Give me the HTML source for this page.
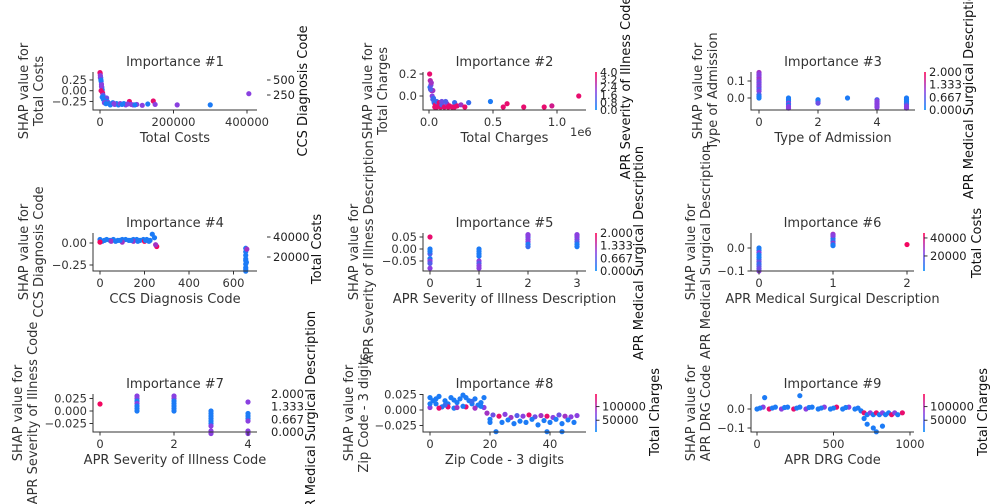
<!DOCTYPE html>
<html><head><meta charset="utf-8">
<style>
html,body{margin:0;padding:0;background:#fff;}
svg{display:block;font-family:"DejaVu Sans","Liberation Sans",sans-serif;}
</style></head>
<body>
<svg id="fig" width="1008" height="504" viewBox="0 0 1008 504" xmlns="http://www.w3.org/2000/svg">
<defs>
<linearGradient id="cb" x1="0" y1="1" x2="0" y2="0">
<stop offset="0" stop-color="#008afb"/><stop offset="0.5" stop-color="#8a40e0"/><stop offset="1" stop-color="#ff0052"/>
</linearGradient>
</defs>
</svg>
<script>
// ---- data arrays ----
const p1X=[0,500,1000,2000,3000,4000,5000,6000,7000,8000,10000,12000,15000,18000,20000,22000,25000,30000,35000,40000,45000,50000,55000,60000,70000,80000,85000,90000,100000,115000,130000,145000,150000,210000,300000,405000,1000,2500,4000,9000,3000,6000,12000,16000,28000,38000,65000,75000,95000];
const p1Y=[0.42,0.4,0.35,0.3,0.22,0.15,0.08,0.02,-0.05,-0.1,-0.15,-0.2,-0.22,-0.17,-0.25,-0.28,-0.3,-0.31,-0.28,-0.32,-0.3,-0.33,-0.3,-0.32,-0.33,-0.25,-0.32,-0.33,-0.32,-0.34,-0.31,-0.24,-0.32,-0.33,-0.33,-0.07,0.3,0.25,0.1,-0.2,0.0,-0.15,-0.28,-0.3,-0.33,-0.3,-0.3,-0.31,-0.33];
const p1C=[0.9,0.9,0.5,0.1,0.1,0.5,0.1,0.1,0.9,0.4,0.1,0.1,0.9,0.4,0.1,0.5,0.1,0.5,0.1,0.5,0.1,0.1,0.5,0.1,0.5,0.9,0.5,0.5,0.5,0.5,0.1,0.9,0.5,0.5,0.1,0.5,0.5,0.1,0.5,0.1,0.9,0.1,0.5,0.1,0.1,0.5,0.1,0.5,0.1];
const p2X=[5000,8000,10000,15000,20000,25000,30000,40000,50000,60000,70000,80000,90000,100000,120000,140000,160000,180000,200000,220000,250000,280000,310000,480000,580000,610000,740000,900000,960000,1170000,30000,60000,100000,150000,200000,12000,18000,35000,45000,130000];
const p2Y=[0.2,0.08,0.14,0.1,0.05,0.0,-0.03,-0.06,-0.08,-0.05,-0.09,-0.06,-0.1,-0.08,-0.1,-0.07,-0.09,-0.1,-0.06,-0.09,-0.08,-0.1,-0.06,-0.05,-0.1,-0.07,-0.1,-0.1,-0.09,0.0,0.05,-0.1,-0.05,-0.1,-0.1,0.06,0.12,-0.02,-0.1,-0.05];
const p2C=[0.9,0.1,0.7,0.4,0.7,0.5,0.3,0.2,0.9,0.2,0.6,0.9,0.9,0.3,0.9,0.6,0.9,0.9,0.2,0.9,0.6,0.9,0.2,0.1,0.9,0.9,0.9,0.9,0.8,0.9,0.6,0.9,0.4,0.9,0.9,0.3,0.6,0.2,0.9,0.3];
const p3X=[0,0,0,0,0,0,0,0,0,0,0,0,0,0,0,1,1,1,1,1,1,1,2,2,2,2,3,4,4,4,4,4,4,5,5,5,5,5,5,5];
const p3Y=[0.15,0.14,0.13,0.12,0.11,0.1,0.09,0.08,0.07,0.06,0.05,0.04,0.02,0.01,0.0,0.0,-0.01,-0.02,-0.03,-0.04,-0.05,-0.06,-0.01,-0.015,-0.02,-0.03,0.0,-0.01,-0.02,-0.03,-0.04,-0.05,-0.055,0.0,-0.01,-0.02,-0.03,-0.04,-0.05,-0.06];
const p3C=[0.6,0.5,0.5,0.5,0.6,0.5,0.4,0.5,0.4,0.5,0.3,0.5,0.3,0.1,0.1,0.1,0.1,0.1,0.5,0.1,0.5,0.5,0.1,0.1,0.1,0.4,0.1,0.3,0.5,0.5,0.5,0.5,0.5,0.1,0.1,0.1,0.1,0.3,0.5,0.5];
const p4X=[0,10,20,30,45,60,80,100,115,130,150,165,180,195,210,225,235,245,255,0,50,100,150,200,250,655,655,655,655,655,655,655,655,655,658,660,70,90,140,170,205,220];
const p4Y=[0.04,0.02,0.03,0.04,0.03,0.04,0.03,0.04,0.04,0.03,0.04,0.04,0.03,0.04,0.04,0.03,0.1,0.06,-0.04,0.01,0.02,0.01,0.02,0.02,-0.02,-0.06,-0.1,-0.14,-0.18,-0.2,-0.24,-0.28,-0.3,-0.32,-0.22,-0.07,0.02,0.03,0.03,0.02,0.03,0.02];
const p4C=[0.1,0.1,0.1,0.1,0.1,0.1,0.1,0.1,0.1,0.1,0.1,0.1,0.1,0.1,0.1,0.1,0.1,0.1,0.95,0.95,0.6,0.6,0.6,0.95,0.6,0.1,0.1,0.1,0.1,0.1,0.1,0.1,0.1,0.1,0.1,0.6,0.1,0.1,0.1,0.1,0.1,0.1];
const p5X=[0,0,0,0,0,0,0,1,1,1,1,1,1,1,2,2,2,2,2,2,3,3,3,3,3,3,0,1,2,3];
const p5Y=[0.05,0.0,-0.02,-0.04,-0.05,-0.06,-0.08,0.0,-0.01,-0.03,-0.05,-0.06,-0.07,-0.08,0.06,0.05,0.04,0.03,0.02,0.01,0.06,0.05,0.04,0.03,0.02,0.01,-0.01,-0.02,0.055,0.055];
const p5C=[0.9,0.1,0.3,0.1,0.5,0.3,0.5,0.1,0.1,0.1,0.5,0.3,0.5,0.5,0.5,0.1,0.5,0.5,0.1,0.2,0.5,0.1,0.5,0.3,0.1,0.1,0.1,0.1,0.5,0.5];
const p6X=[0,0,0,0,0,0,0,0,0,1,1,1,1,1,1,1,2,0,0,1];
const p6Y=[-0.0,-0.01,-0.02,-0.03,-0.05,-0.06,-0.07,-0.08,-0.1,0.06,0.05,0.04,0.03,0.02,0.015,0.01,0.015,-0.04,-0.09,0.055];
const p6C=[0.1,0.1,0.5,0.1,0.3,0.4,0.2,0.3,0.5,0.6,0.5,0.1,0.2,0.6,0.2,0.1,0.95,0.1,0.4,0.5];
const p7X=[0,1,1,1,1,1,1,1,2,2,2,2,2,2,2,3,3,3,3,3,3,3,3,3,4,4,4,4,4,4,4];
const p7Y=[0.014,0.03,0.025,0.02,0.015,0.01,0.005,0.0,0.03,0.025,0.02,0.015,0.01,0.005,0.0,0.0,-0.005,-0.01,-0.015,-0.02,-0.025,-0.03,-0.04,-0.045,0.018,-0.005,-0.01,-0.015,-0.02,-0.04,-0.045];
const p7C=[0.95,0.5,0.5,0.1,0.5,0.1,0.1,0.1,0.5,0.5,0.1,0.1,0.1,0.1,0.1,0.1,0.1,0.1,0.1,0.1,0.1,0.5,0.5,0.5,0.5,0.1,0.1,0.1,0.5,0.5,0.5];
const p8X=[0,1,2,3,4,5,6,7,8,9,10,11,12,13,14,15,16,17,18,0,3,6,9,12,15,18,19,21,23,25,27,29,31,33,35,37,39,41,43,45,47,49,20,24,28,32,36,40,44,48,22,39,44,0,2,5,8,11,14,17,20,26,30,34,38,42,46];
const p8Y=[0.02,0.015,0.01,0.022,0.005,0.015,0.01,0.02,0.003,0.012,0.018,0.024,0.02,0.015,0.01,0.018,0.008,0.012,0.02,0.004,0.003,0.005,0.004,0.005,0.003,0.004,-0.005,-0.008,-0.01,-0.007,-0.012,-0.009,-0.01,-0.008,-0.011,-0.009,-0.01,-0.012,-0.008,-0.01,-0.011,-0.009,-0.02,-0.02,-0.022,-0.02,-0.024,-0.02,-0.022,-0.02,-0.035,-0.035,-0.035,0.01,0.018,0.008,0.016,0.006,0.014,0.006,-0.015,-0.016,-0.018,-0.015,-0.017,-0.015,-0.016];
const p8C=[0.1,0.1,0.1,0.1,0.1,0.1,0.1,0.1,0.1,0.1,0.1,0.1,0.1,0.1,0.1,0.1,0.1,0.1,0.1,0.5,0.9,0.9,0.6,0.9,0.6,0.5,0.6,0.4,0.9,0.5,0.6,0.3,0.5,0.9,0.4,0.6,0.9,0.5,0.4,0.6,0.5,0.5,0.1,0.1,0.1,0.1,0.1,0.1,0.1,0.1,0.1,0.1,0.1,0.1,0.1,0.2,0.1,0.1,0.2,0.1,0.1,0.1,0.1,0.1,0.1,0.1,0.1];
const p9X=[0,40,80,120,160,200,240,280,320,360,400,440,480,520,560,600,640,680,700,720,740,760,780,800,820,840,860,880,900,920,950,50,280,700,720,760,780,820,20,100,180,260,340,420,500,580,660];
const p9Y=[0.0,0.01,0.0,0.01,0.0,0.01,0.0,0.01,0.0,0.01,0.0,0.01,0.0,0.01,0.0,0.01,0.0,-0.01,-0.02,-0.03,-0.02,-0.03,-0.02,-0.03,-0.02,-0.03,-0.02,-0.03,-0.02,-0.03,-0.02,0.06,0.07,-0.05,-0.08,-0.1,-0.12,-0.09,0.005,0.005,0.008,0.005,0.008,0.005,0.005,0.008,0.005];
const p9C=[0.1,0.5,0.9,0.1,0.5,0.1,0.9,0.1,0.5,0.1,0.1,0.5,0.1,0.9,0.1,0.5,0.1,0.1,0.9,0.1,0.5,0.1,0.9,0.1,0.5,0.1,0.1,0.9,0.5,0.1,0.9,0.1,0.1,0.1,0.1,0.1,0.1,0.1,0.1,0.1,0.1,0.1,0.1,0.1,0.1,0.1,0.1];
// tick labels
const p1XT=[0,200000,400000], p1YT=[0.25,0,-0.25], p1YL=["0.25","0.00","\u22120.25"], p1CT=[500,250];
const p2XT=[0,500000,1000000], p2XL=["0.0","0.5","1.0"], p2YT=[0.2,0], p2YL=["0.2","0.0"], p2CT=["4.0","3.2","2.4","1.6","0.8","0.0"];
const p3XT=[0,2,4], p3YT=[0.1,0], p3YL=["0.1","0.0"];
const p4XT=[0,200,400,600], p4YT=[0,-0.25], p4YL=["0.00","\u22120.25"], p4CT=[40000,20000];
const p5XT=[0,1,2,3], p5YT=[0.05,0,-0.05], p5YL=["0.05","0.00","\u22120.05"];
const p6XT=[0,1,2], p6YT=[0,-0.1], p6YL=["0.0","\u22120.1"], p6CT=[40000,20000];
const p7XT=[0,2,4], p7YT=[0.025,0,-0.025], p7YL=["0.025","0.000","\u22120.025"];
const p8XT=[0,20,40], p8YT=[0.025,0,-0.025], p8YL=["0.025","0.000","\u22120.025"], p8CT=[100000,50000];
const p9XT=[0,500,1000], p9YT=[0,-0.1], p9YL=["0.0","\u22120.1"], p9CT=[100000,50000];
const triT=["2.000","1.333","0.667","0.000"];

const NS="http://www.w3.org/2000/svg";
const svg=document.getElementById('fig');
function mk(tag,at,parent){const e=document.createElementNS(NS,tag);for(const k in at)e.setAttribute(k,at[k]);(parent||svg).appendChild(e);return e;}
function col(t){const a=[0,138,251],m=[138,64,224],b=[255,0,82];let c;if(t<0.5){const u=t/0.5;c=a.map((v,i)=>v+(m[i]-v)*u);}else{const u=(t-0.5)/0.5;c=m.map((v,i)=>v+(b[i]-v)*u);}return `rgb(${c.map(Math.round).join(',')})`;}

function panel(o){
  const g=mk('g',{});
  
  
  const sx=v=>o.x0+v*o.xs, sy=v=>o.y0-v*o.ys;
  for(let i=0;i<o.X.length;i++){
    const c=mk('circle',{cx:sx(o.X[i]),cy:sy(o.Y[i]),r:2.6,fill:col(o.C[i])},g);
    
    
  }
  const ax=mk('path',{d:`M${o.l},${o.t}V${o.b}H${o.r}`,stroke:'#333',fill:'none','stroke-width':1},g);
  
  
  o.XT.forEach((v,i)=>{const x=sx(v);mk('line',{x1:x,x2:x,y1:o.b,y2:o.b+3.5,stroke:'#333'},g);
    const t=mk('text',{x:x,y:o.b+16,'text-anchor':'middle','font-size':11.5,fill:'#333'},g);t.textContent=o.XL?o.XL[i]:String(v);
    });
  o.YT.forEach((v,i)=>{const y=sy(v);mk('line',{x1:o.l-3.5,x2:o.l,y1:y,y2:y,stroke:'#333'},g);
    const t=mk('text',{x:o.l-6,y:y+4,'text-anchor':'end','font-size':11.5,fill:'#333'},g);t.textContent=o.YL[i];
    });
  const ti=mk('text',{x:(o.l+o.r)/2,y:o.t-6,'text-anchor':'middle','font-size':13,fill:'#333'},g);ti.textContent=o.title;
  
  const xl=mk('text',{x:(o.l+o.r)/2,y:o.b+32,'text-anchor':'middle','font-size':13,fill:'#333'},g);xl.textContent=o.xlab;
  
  if(o.xoff){const e=mk('text',{x:o.r-16,y:o.b+26,'font-size':11.5,fill:'#333'},g);e.textContent=o.xoff;
    }
  const cy=(o.t+o.b)/2;
  const yl=mk('text',{transform:`translate(${o.ylx},${cy}) rotate(-90)`,'text-anchor':'middle','font-size':13,fill:'#333'},g);
  
  const s1=mk('tspan',{x:0,dy:0},yl);s1.textContent='SHAP value for';
  const s2=mk('tspan',{x:0,dy:15},yl);s2.textContent=o.ylab;
  const cx=o.r+10;
  if(o.bar){const b=mk('rect',{x:cx-0.8,y:o.t,width:1.6,height:o.b-o.t,fill:'url(#cb)'},g);
    }
  const cbs=(o.b-o.t)/(o.cmax-o.cmin);
  o.CT.forEach((v,i)=>{
    let y;let lab;
    if(typeof v==='string'){lab=v;y=o.b-parseFloat(v)*cbs+o.cmin*cbs;}else{lab=String(v);y=o.b-(v-o.cmin)*cbs;}
    if(o.cticks)mk('line',{x1:cx,x2:cx+3.5,y1:y,y2:y,stroke:'#333'},g);
    const t=mk('text',{x:cx+(o.cticks?6:4),y:y+4,'font-size':o.cfs||11.5,fill:'#222'},g);t.textContent=lab;
    });
  const cl=mk('text',{transform:`translate(${o.clx},${o.cly||cy}) rotate(-90)`,'text-anchor':'middle','font-size':13,fill:'#111'},g);cl.textContent=o.clab;
  
}
const R=[[72,110],[233,271],[394,432]];
panel({name:'panel-importance-1',title:'Importance #1',xlab:'Total Costs',ylab:'Total Costs',X:p1X,Y:p1Y,C:p1C,XT:p1XT,YT:p1YT,YL:p1YL,CT:p1CT,
  l:93,r:257,t:R[0][0],b:R[0][1],x0:100,xs:147/400000,y0:90.7,ys:43,ylx:28,cmin:0,cmax:633,cticks:true,bar:false,clab:'CCS Diagnosis Code',clx:307});
panel({name:'panel-importance-2',title:'Importance #2',xlab:'Total Charges',ylab:'Total Charges',X:p2X,Y:p2Y,C:p2C,XT:p2XT,XL:p2XL,YT:p2YT,YL:p2YL,CT:p2CT,xoff:'1e6',
  l:423,r:586,t:R[0][0],b:R[0][1],x0:429,xs:128/1000000,y0:96,ys:110,ylx:372,cmin:0,cmax:4,cticks:false,bar:true,cfs:11,clab:'APR Severity of Illness Code',clx:630,cly:88});
panel({name:'panel-importance-3',title:'Importance #3',xlab:'Type of Admission',ylab:'Type of Admission',X:p3X,Y:p3Y,C:p3C,XT:p3XT,YT:p3YT,YL:p3YL,CT:triT,
  l:751,r:915,t:R[0][0],b:R[0][1],x0:759,xs:29.5,y0:98,ys:170,ylx:702,cmin:0,cmax:2,cticks:false,bar:true,clab:'APR Medical Surgical Description',clx:973,cly:92});
panel({name:'panel-importance-4',title:'Importance #4',xlab:'CCS Diagnosis Code',ylab:'CCS Diagnosis Code',X:p4X,Y:p4Y,C:p4C,XT:p4XT,YT:p4YT,YL:p4YL,CT:p4CT,
  l:93,r:257,t:R[1][0],b:R[1][1],x0:100,xs:0.2225,y0:243,ys:88,ylx:28,cmin:6000,cmax:44000,cticks:true,bar:false,clab:'Total Costs',clx:321,cly:249});
panel({name:'panel-importance-5',title:'Importance #5',xlab:'APR Severity of Illness Description',ylab:'APR Severity of Illness Description',X:p5X,Y:p5Y,C:p5C,XT:p5XT,YT:p5YT,YL:p5YL,CT:triT,
  l:423,r:586,t:R[1][0],b:R[1][1],x0:430,xs:49,y0:249,ys:240,ylx:358,cmin:0,cmax:2,cticks:false,bar:true,clab:'APR Medical Surgical Description',clx:643,cly:253});
panel({name:'panel-importance-6',title:'Importance #6',xlab:'APR Medical Surgical Description',ylab:'APR Medical Surgical Description',X:p6X,Y:p6Y,C:p6C,XT:p6XT,YT:p6YT,YL:p6YL,CT:p6CT,
  l:751,r:914,t:R[1][0],b:R[1][1],x0:759,xs:74,y0:248,ys:230,ylx:695,cmin:3300,cmax:45500,cticks:true,bar:true,clab:'Total Costs',clx:981,cly:243});
panel({name:'panel-importance-7',title:'Importance #7',xlab:'APR Severity of Illness Code',ylab:'APR Severity of Illness Code',X:p7X,Y:p7Y,C:p7C,XT:p7XT,YT:p7YT,YL:p7YL,CT:triT,
  l:93,r:257,t:R[2][0],b:R[2][1],x0:100,xs:37,y0:411,ys:500,ylx:22,cmin:0,cmax:2,cticks:false,bar:false,clab:'APR Medical Surgical Description',clx:315,cly:418});
panel({name:'panel-importance-8',title:'Importance #8',xlab:'Zip Code - 3 digits',ylab:'Zip Code - 3 digits',X:p8X,Y:p8Y,C:p8C,XT:p8XT,YT:p8YT,YL:p8YL,CT:p8CT,
  l:423,r:586,t:R[2][0],b:R[2][1],x0:430,xs:3,y0:410,ys:620,ylx:353,cmin:7000,cmax:146000,cticks:true,bar:true,clab:'Total Charges',clx:659,cly:412});
panel({name:'panel-importance-9',title:'Importance #9',xlab:'APR DRG Code',ylab:'APR DRG Code',X:p9X,Y:p9Y,C:p9C,XT:p9XT,YT:p9YT,YL:p9YL,CT:p9CT,
  l:751,r:914,t:R[2][0],b:R[2][1],x0:757,xs:0.153,y0:409,ys:190,ylx:695,cmin:7000,cmax:146000,cticks:true,bar:true,clab:'Total Charges',clx:987,cly:412});
</script>
</body></html>
